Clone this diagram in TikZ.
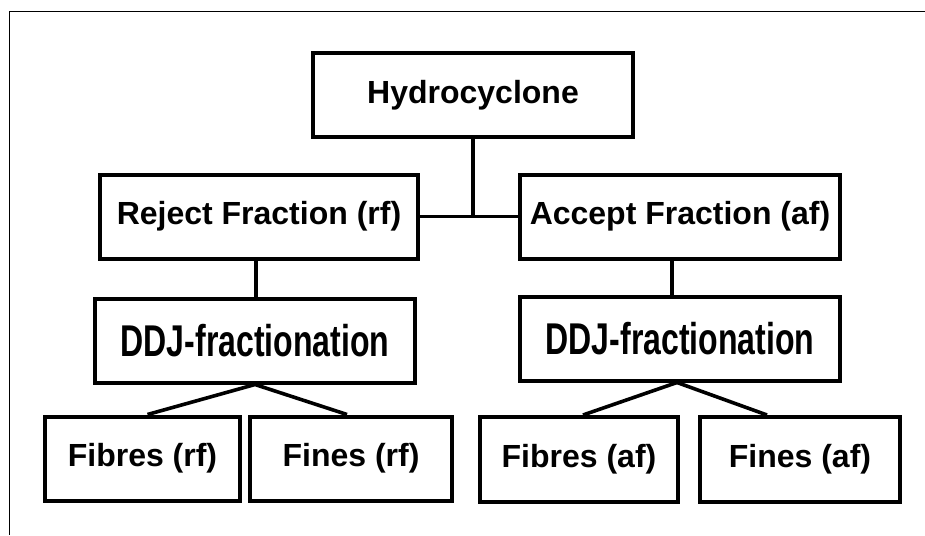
\documentclass[tikz,border=0pt]{standalone}
\usepackage{fontspec}
\setmainfont{Liberation Sans}
\newfontfamily\narrowsans[FakeStretch=0.72]{Liberation Sans}
\usetikzlibrary{calc}

\tikzset{
  fracbox/.style={draw,line width=4pt,rectangle,inner sep=0pt,
    minimum height=84pt,font=\fontsize{32}{32}\selectfont\bfseries},
  ddjbox/.style={fracbox,font=\narrowsans\fontsize{44.5}{44.5}\selectfont\bfseries},
  link/.style={line width=3.6pt}
}

\begin{document}
\begin{tikzpicture}[x=1pt,y=-1pt]
  \useasboundingbox (0,0) rectangle (925,535);

  % frame round the figure
  \draw[line width=1pt] (925,12) -- (9,12) -- (9,535);

  % top and first split
  \node[fracbox,minimum width=320pt] (hydro) at (473,95) {Hydrocyclone};
  \node[fracbox,minimum width=318pt] (reject) at (259,216.5) {Reject Fraction (rf)};
  \node[fracbox,minimum width=320pt] (accept) at (680,216.5) {Accept Fraction (af)};

  % fractionation steps
  \node[ddjbox,minimum width=320pt] (ddjrf) at (255,340.5) {DDJ-fractionation\hspace{20pt}};
  \node[ddjbox,minimum width=320pt] (ddjaf) at (680,338.5) {DDJ-fractionation\hspace{14pt}};

  % products
  \node[fracbox,minimum width=195pt] (fibresrf) at (142.5,458.5) {Fibres (rf)};
  \node[fracbox,minimum width=202pt] (finesrf) at (351,458.5) {Fines (rf)};
  \node[fracbox,minimum width=198pt,minimum height=85pt] (fibresaf) at (579,459.5) {Fibres (af)};
  \node[fracbox,minimum width=200pt,minimum height=85pt] (finesaf) at (800,459.5) {Fines (af)};

  % connectors
  \draw[link] (reject.east) -- (accept.west);
  \draw[link] (hydro.south) -- (hydro.south |- reject.east);
  \draw[link] ([xshift=-3pt]reject.south) -- ([xshift=-3pt]reject.south |- ddjrf.north);
  \draw[link] ([xshift=-8pt]accept.south) -- ([xshift=-8pt]accept.south |- ddjaf.north);

  \draw[link] ([xshift=5pt]fibresrf.north) -- (ddjrf.south) -- ([xshift=-4pt]finesrf.north);
  \draw[link] ([xshift=4pt]fibresaf.north) -- ([xshift=-3pt]ddjaf.south) -- ([xshift=-33pt]finesaf.north);
\end{tikzpicture}
\end{document}
